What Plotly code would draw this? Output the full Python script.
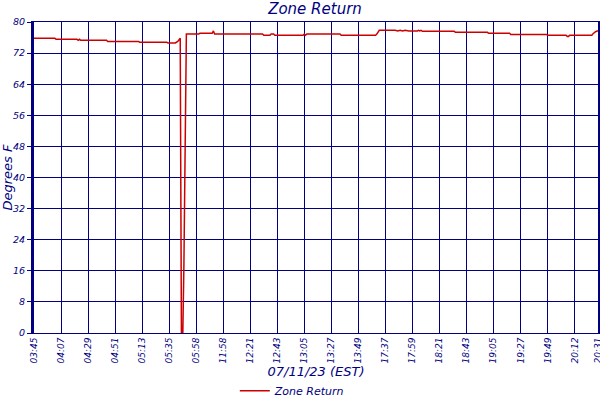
import plotly.graph_objects as go

# Sample index (one sample per minute) and zone return temperature (°F)
sample_idx = [0, 17, 18, 35, 36, 37, 38, 59, 60, 85, 86, 108, 109, 115, 117, 119,
              120, 121, 122, 123, 124, 134, 135, 145, 146, 147, 186, 187, 192, 193,
              195, 196, 219, 220, 221, 222, 249, 250, 278, 279, 280, 281, 294, 296,
              298, 300, 302, 304, 305, 312, 313, 314, 315, 316, 342, 343, 369, 370,
              387, 388, 417, 418, 433, 434, 435, 436, 454, 455, 457, 459]
temp_f = [75.8, 75.8, 75.55, 75.55, 75.3, 75.55, 75.3, 75.3, 75.0, 75.0, 74.8, 74.8,
          74.6, 74.6, 75.0, 75.8,
          -2.3, -2.3, 17.5, 57.0, 76.9, 76.9, 77.1, 77.1, 77.7, 76.9, 76.9, 76.6,
          76.6, 76.9,
          76.9, 76.6, 76.6, 76.9, 76.6, 76.9, 76.9, 76.6, 76.6, 76.9, 77.5, 77.87,
          77.87, 77.7,
          77.87, 77.7, 77.87, 77.7, 77.7, 77.7, 77.87, 77.7, 77.87, 77.6, 77.6,
          77.35, 77.35, 77.1,
          77.1, 76.8, 76.8, 76.6, 76.6, 76.3, 76.3, 76.6, 76.6, 77.0, 77.5, 77.75]

tick_idx = [0, 22, 44, 66, 88, 110, 132, 154, 176, 198, 220, 242, 264, 286, 308,
            330, 352, 374, 396, 418, 440, 459]
tick_labels = ["03:45", "04:07", "04:29", "04:51", "05:13", "05:35", "05:58",
               "11:58", "12:21", "12:43", "13:05", "13:27", "13:49", "17:37",
               "17:59", "18:21", "18:43", "19:05", "19:27", "19:49", "20:12", "20:31"]
y_ticks = [0, 8, 16, 24, 32, 40, 48, 56, 64, 72, 80]

NAVY = "#000080"
FONT = "DejaVu Sans"

fig = go.Figure()
fig.add_trace(go.Scatter(
    x=sample_idx, y=temp_f, mode="lines", name="Zone Return",
    line=dict(color="#CC0000", width=1.5),
))

fig.update_layout(
    width=600, height=400,
    margin=dict(l=34, r=2, t=22, b=67, autoexpand=False),
    paper_bgcolor="white", plot_bgcolor="white",
    title=dict(text="<i>Zone Return</i>", x=0.525, xanchor="center", y=0.977,
               yanchor="middle", font=dict(family=FONT, size=15, color=NAVY)),
    showlegend=True,
    legend=dict(orientation="h", x=0.458, xanchor="center", y=-0.186, yanchor="middle",
                font=dict(family=FONT, size=11, color=NAVY, style="italic"),
                bgcolor="rgba(0,0,0,0)"),
    xaxis=dict(
        range=[0, 459], tickmode="array", tickvals=tick_idx, ticktext=tick_labels,
        tickangle=-90, tickfont=dict(family=FONT, size=9, color=NAVY, style="italic"),
        ticklabeloverflow="allow", automargin=False,
        showgrid=True, gridcolor=NAVY, gridwidth=1,
        showline=True, linecolor=NAVY, linewidth=1, mirror=True,
        ticks="", zeroline=False,
        title=dict(text="<i>07/11/23 (EST)</i>", standoff=2,
                   font=dict(family=FONT, size=13, color=NAVY)),
    ),
    yaxis=dict(
        range=[0, 80], tickmode="array", tickvals=y_ticks, automargin=False,
        tickfont=dict(family=FONT, size=9.5, color=NAVY, style="italic"),
        showgrid=True, gridcolor=NAVY, gridwidth=1,
        showline=True, linecolor=NAVY, linewidth=3, mirror=True,
        ticks="outside", ticklen=4, tickcolor=NAVY, zeroline=False,
        title=dict(text="<i>Degrees F</i>", standoff=2,
                   font=dict(family=FONT, size=13, color=NAVY)),
    ),
)

fig.write_html("out.html", config={"displayModeBar": False},
               post_script="document.body.style.margin='0';")
